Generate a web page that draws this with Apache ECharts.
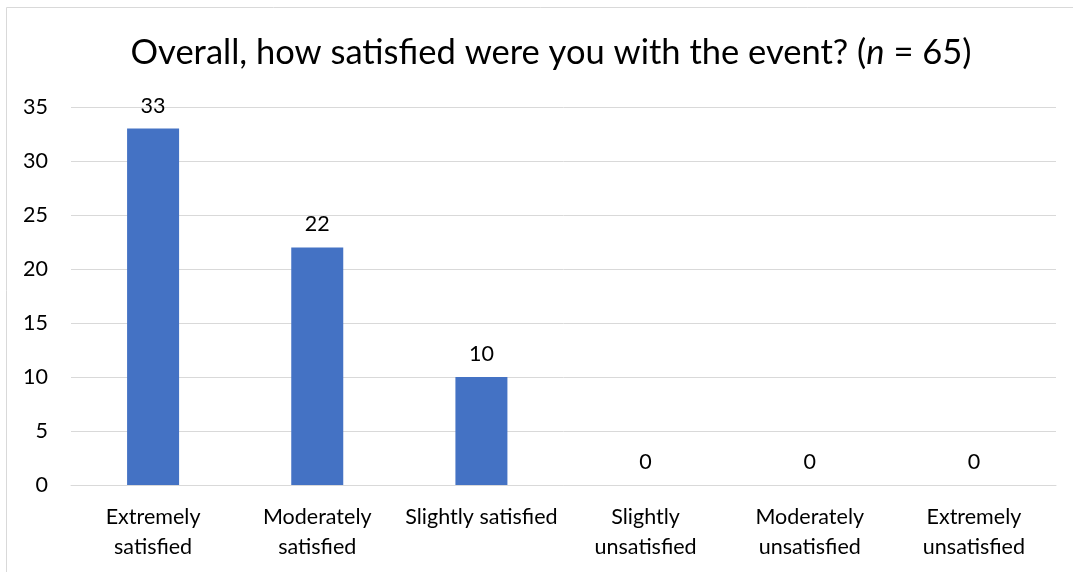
<!DOCTYPE html>
<html>
<head>
<meta charset="utf-8">
<script src="https://cdn.jsdelivr.net/npm/echarts@6/dist/echarts.min.js"></script>
<style>
  html, body { margin: 0; padding: 0; background: #fff; }
  #chart { width: 1073px; height: 572px; }
</style>
</head>
<body>
<div id="chart"></div>
<script>
const categories = [
  "Extremely\nsatisfied",
  "Moderately\nsatisfied",
  "Slightly satisfied",
  "Slightly\nunsatisfied",
  "Moderately\nunsatisfied",
  "Extremely\nunsatisfied",
];
const counts = [33, 22, 10, 0, 0, 0];
const yTicks = { min: 0, max: 35, interval: 5 };

const FONT = "Lato, 'Open Sans', sans-serif";

const chart = echarts.init(document.getElementById("chart"));
chart.setOption({
  animation: false,
  graphic: [
    {
      type: "rect",
      shape: { x: 6.5, y: 7.5, width: 1080, height: 580 },
      style: { fill: "none", stroke: "#d9d9d9", lineWidth: 1 },
      silent: true,
    },
  ],
  title: {
    text: "Overall, how satisfied were you with the event? ({i|n} = 65)",
    left: 546,
    textAlign: "center",
    top: 30,
    textStyle: {
      fontFamily: FONT,
      fontSize: 34.5,
      fontWeight: "normal",
      color: "#000",
      rich: {
        i: { fontFamily: FONT, fontSize: 34.5, fontStyle: "italic", color: "#000" },
      },
    },
  },
  grid: { left: 71, right: 17, top: 107, bottom: 87 },
  xAxis: {
    type: "category",
    data: categories,
    axisLine: { lineStyle: { color: "#d9d9d9", width: 1 } },
    axisTick: { show: false },
    axisLabel: {
      interval: 0,
      margin: 17,
      fontFamily: FONT,
      fontSize: 21.5,
      lineHeight: 30,
      color: "#000",
    },
  },
  yAxis: {
    type: "value",
    min: yTicks.min,
    max: yTicks.max,
    interval: yTicks.interval,
    axisLine: { show: false },
    axisTick: { show: false },
    splitLine: { lineStyle: { color: "#d9d9d9", width: 1 } },
    axisLabel: {
      margin: 23,
      fontFamily: FONT,
      fontSize: 21.5,
      color: "#000",
    },
  },
  series: [
    {
      type: "bar",
      data: counts,
      barWidth: 52,
      itemStyle: { color: "#4472c4" },
      label: {
        show: true,
        position: "top",
        distance: 12,
        fontFamily: FONT,
        fontSize: 21.5,
        color: "#000",
      },
    },
  ],
});
</script>
</body>
</html>
